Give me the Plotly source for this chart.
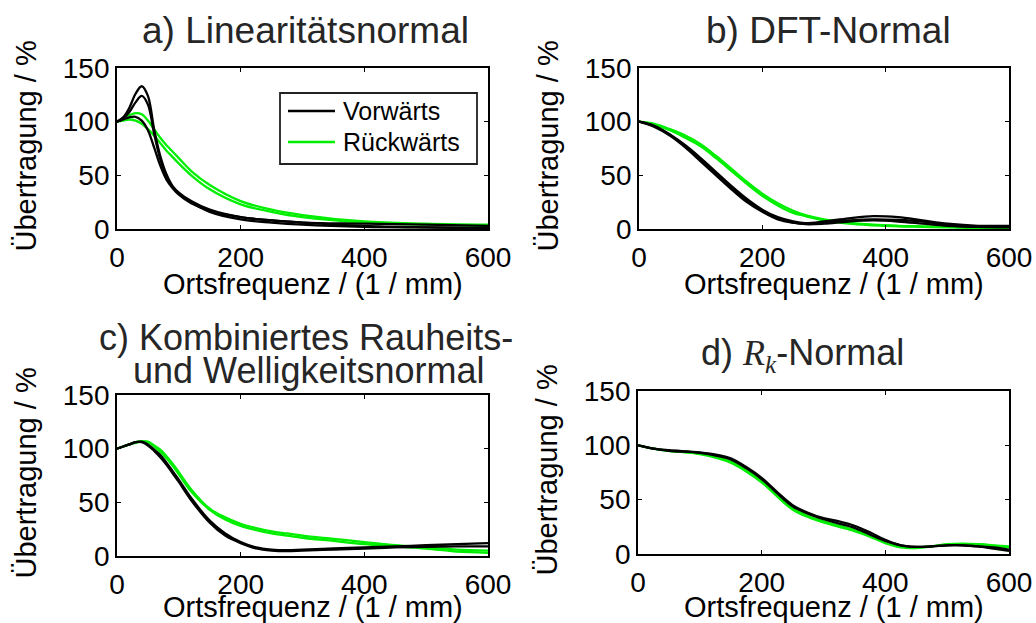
import plotly.graph_objects as go

# ---------------- data ----------------
# a) Linearitätsnormal
a_x = [0, 10, 20, 30, 40, 50, 60, 70, 80, 90, 100, 120, 150, 200, 250, 300, 400, 500, 600]
a_vor_1 = [100, 104, 113, 126, 133, 124, 93, 68, 51, 40, 34, 26, 18, 11, 8, 6, 5, 4, 3]
a_vor_2 = [100, 103, 109, 118, 124, 116, 89, 65, 49, 39, 33, 25, 16, 9, 6, 4, 2, 1.5, 1]
a_vor_3 = [100, 102, 104, 104.5, 101, 92, 76, 59, 46, 38, 32, 24, 17, 11, 8, 6, 3, 1.5, 0.5]
a_rue_1 = [100, 103, 106, 108, 107, 101, 93, 85, 78, 72, 66, 54, 41, 26, 18, 13, 7, 5, 4]
a_rue_2 = [100, 101, 102, 101, 98, 93, 87, 80, 73, 67, 61, 50, 37, 23, 16, 11, 6, 4, 3]

# b) DFT-Normal
b_x = [0, 25, 50, 75, 100, 125, 150, 175, 200, 225, 250, 270, 300, 340, 380, 420, 460, 500, 550, 600]
b_vor_1 = [100, 96, 88, 78, 66, 53, 40, 28, 18, 11, 7, 5.5, 7, 10, 12, 11, 8, 5, 3, 3]
b_vor_2 = [100, 95, 87, 76, 63, 50, 37, 25, 16, 9, 6, 5, 6, 8, 9, 8.5, 7, 4, 2, 1.5]
b_vor_3 = [100, 96, 88, 77, 65, 51, 38, 27, 17, 10, 6, 4.5, 5, 7, 8, 7, 5, 3, 2, 2]
b_rue_1 = [100, 98, 93, 87, 79, 68, 56, 44, 33, 24, 17, 13, 9, 6, 4, 3, 2.5, 2, 1.5, 1]
b_rue_2 = [100, 97, 92, 85, 77, 66, 54, 42, 31, 22, 15, 12, 8, 5, 3.5, 2.5, 2, 1.5, 1, 1]

# c) Kombiniertes Rauheits- und Welligkeitsnormal
c_x = [0, 10, 20, 30, 40, 50, 60, 70, 80, 90, 100, 120, 150, 175, 200, 225, 250, 275, 300, 350, 400, 450, 500, 550, 600]
c_vor_1 = [100, 102, 104, 106, 106.5, 104, 99, 94, 87, 79, 71, 54, 33, 21, 13, 8, 6, 5.5, 6, 7, 8, 9, 10, 11, 12]
c_vor_2 = [100, 102, 104, 106, 106, 103, 98, 92, 85, 77, 69, 52, 31, 19, 12, 7, 5, 4.5, 5, 6, 7, 8, 8.5, 9, 9]
c_rue_1 = [100, 102, 104, 106, 107, 106.5, 103, 99, 93, 86, 78, 62, 44, 36, 30, 26, 23, 21, 19, 16, 13, 10, 8, 6, 5]
c_rue_2 = [100, 102, 104, 105.5, 106.5, 106, 102, 97, 91, 84, 76, 60, 43, 34, 28, 24, 21, 19, 17, 14, 11, 9, 7, 4, 3]

# d) Rk-Normal
d_x = [0, 25, 50, 100, 130, 150, 175, 200, 225, 250, 275, 300, 325, 350, 375, 400, 425, 450, 475, 500, 525, 550, 575, 600]
d_vor_1 = [100, 97, 95.5, 93.5, 91, 88, 80, 70, 57, 45, 38, 33, 30, 26, 20, 13, 8, 6.5, 7, 8, 8, 7, 5, 3]
d_vor_2 = [100, 97, 95, 93, 90, 87, 79, 69, 56, 44, 37, 32, 28, 24, 18, 12, 8, 6.5, 7, 8, 8, 7, 6, 4]
d_rue_1 = [100, 97, 95, 92, 88, 84, 76, 66, 53, 41, 34, 29, 25, 21, 16, 10, 6, 5.5, 7, 9, 9.5, 9, 8, 7]
d_rue_2 = [100, 97, 95, 92.5, 89, 85, 77, 67, 54, 42, 35, 30, 26, 22, 17, 11, 7, 6, 7, 8.5, 9, 9, 7.5, 6]

x_ticks = [0, 200, 400, 600]
y_ticks = [0, 50, 100, 150]
legend_names = ["Vorwärts", "Rückwärts"]
titles = {
    "a": "a) Linearitätsnormal",
    "b": "b) DFT-Normal",
    "c1": "c) Kombiniertes Rauheits-",
    "c2": "und Welligkeitsnormal",
    "d": "d) <span style='font-family:Liberation Serif'><i>R<sub>k</sub></i></span>-Normal",
}
x_label = "Ortsfrequenz / (1 / mm)"
y_label = "Übertragung / %"

# ---------------- figure ----------------
W, H = 1036, 623
BLACK = "#000000"
GREEN = "#00ee00"
FONT = "Liberation Sans, Arial, sans-serif"
LW = 2.3

fig = go.Figure()

panels = [
    ("x", "y", a_x, [a_vor_1, a_vor_2, a_vor_3], [a_rue_1, a_rue_2]),
    ("x2", "y2", b_x, [b_vor_1, b_vor_2, b_vor_3], [b_rue_1, b_rue_2]),
    ("x3", "y3", c_x, [c_vor_1, c_vor_2], [c_rue_1, c_rue_2]),
    ("x4", "y4", d_x, [d_vor_1, d_vor_2], [d_rue_1, d_rue_2]),
]

for pi, (xa, ya, xs, vors, rues) in enumerate(panels):
    for k, ys in enumerate(rues):
        fig.add_trace(go.Scatter(x=xs, y=ys, mode="lines", xaxis=xa, yaxis=ya,
                                 line=dict(color=GREEN, width=LW, shape="spline"),
                                 name=legend_names[1], showlegend=False))
    for k, ys in enumerate(vors):
        fig.add_trace(go.Scatter(x=xs, y=ys, mode="lines", xaxis=xa, yaxis=ya,
                                 line=dict(color=BLACK, width=LW, shape="spline"),
                                 name=legend_names[0], showlegend=False))

def px_x(p):
    return p / W

def px_y(p):
    return 1 - p / H

# plot boxes in pixels (left, right, top, bottom)
boxes = [
    (117, 488, 68, 229),
    (639, 1009, 68, 229),
    (117, 488, 395, 556),
    (638, 1009, 391, 554),
]

axis_common = dict(showline=True, linecolor=BLACK, linewidth=1.8, mirror="ticks",
                   ticks="inside", ticklen=4, tickwidth=1.3, tickcolor=BLACK,
                   showgrid=False, zeroline=False, automargin=False,
                   tickfont=dict(family=FONT, size=28, color=BLACK))

layout = dict(width=W, height=H, margin=dict(l=0, r=0, t=0, b=0, pad=0, autoexpand=False),
              paper_bgcolor="white", plot_bgcolor="white", showlegend=False,
              font=dict(family=FONT, color=BLACK))

for i, (l, r, t, b) in enumerate(boxes):
    sx = "" if i == 0 else str(i + 1)
    layout["xaxis" + sx] = dict(axis_common, domain=[px_x(l), px_x(r)], range=[0, 600],
                                tickvals=x_ticks, anchor="y" + sx, ticklabelstandoff=2)
    layout["yaxis" + sx] = dict(axis_common, domain=[px_y(b), px_y(t)], range=[0, 150],
                                tickvals=y_ticks, anchor="x" + sx)

fig.update_layout(**layout)

ann = []
TITLE_COLOR = "#262626"
def add_text(text, x, y, size, color=BLACK, angle=0, xanchor="center"):
    ann.append(dict(text=text, x=px_x(x), y=px_y(y), xref="paper", yref="paper",
                    xanchor=xanchor, yanchor="middle", showarrow=False, textangle=angle,
                    font=dict(family=FONT, size=size, color=color)))

add_text(titles["a"], 305, 31, 37, TITLE_COLOR)
add_text(titles["b"], 828, 31, 37, TITLE_COLOR)
add_text(titles["c1"], 306, 337, 36, TITLE_COLOR)
add_text(titles["c2"], 309, 370, 36, TITLE_COLOR)
add_text(titles["d"], 802, 355, 36, TITLE_COLOR)

for (l, r, t, b), ylx, xly in zip(boxes, [26, 548, 26, 546], [284, 284, 607, 607]):
    add_text(x_label, (l + r) / 2 + 10, xly, 29)
    add_text(y_label, ylx, (t + b) / 2 - 2, 29, angle=-90)

# legend of panel a (box, sample lines, labels)
shapes = [
    dict(type="rect", xref="paper", yref="paper", x0=px_x(280), x1=px_x(477),
         y0=px_y(164), y1=px_y(93), line=dict(color="#222222", width=1.8),
         fillcolor="white", layer="above"),
    dict(type="line", xref="paper", yref="paper", x0=px_x(288), x1=px_x(335),
         y0=px_y(111), y1=px_y(111), line=dict(color=BLACK, width=LW), layer="above"),
    dict(type="line", xref="paper", yref="paper", x0=px_x(288), x1=px_x(335),
         y0=px_y(142), y1=px_y(142), line=dict(color=GREEN, width=LW), layer="above"),
]
add_text(legend_names[0], 341, 111, 25, xanchor="left")
add_text(legend_names[1], 341, 142, 25, xanchor="left")

fig.update_layout(annotations=ann, shapes=shapes)

fig.write_html("out.html")
